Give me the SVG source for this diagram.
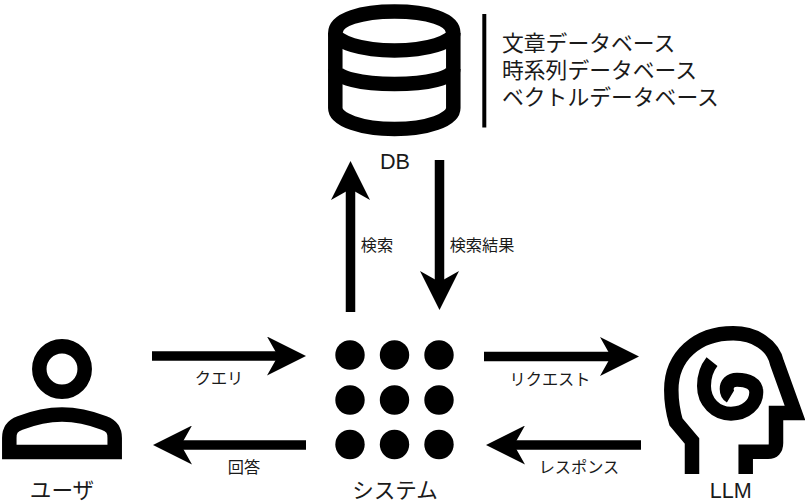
<svg xmlns="http://www.w3.org/2000/svg" width="805" height="504" viewBox="0 0 805 504">
  <style>
    text { font-family: "Liberation Sans", "Noto Sans CJK JP", sans-serif; fill: #1a1a1a; text-anchor: middle; }
    .big { font-size: 21.6px; }
    .small { font-size: 16.2px; }
    .list { font-size: 21.8px; text-anchor: start; }
    .icon { fill: none; stroke: #000; stroke-width: 14.5; }
    .conn { fill: none; stroke: #000; stroke-width: 9.5; marker-end: url(#head); }
  </style>
  <defs>
    <marker id="head" markerUnits="userSpaceOnUse" viewBox="0 0 39 39" refX="11" refY="19.5" markerWidth="39" markerHeight="39" orient="auto">
      <path d="M0 0 L39 19.5 L0 39 L11 19.5 Z" fill="#000"/>
    </marker>
  </defs>
  <rect width="805" height="504" fill="#fff"/>

  <g id="connectors">
    <line class="conn" x1="350.5" y1="312" x2="350.5" y2="189"/>
    <line class="conn" x1="439.5" y1="160" x2="439.5" y2="282"/>
    <line class="conn" x1="152" y1="356" x2="278" y2="356"/>
    <line class="conn" x1="306" y1="445" x2="181" y2="445"/>
    <line class="conn" x1="484" y1="356.5" x2="611" y2="356.5"/>
    <line class="conn" x1="641" y1="445" x2="514" y2="445"/>
    <text class="small" x="219" y="384">クエリ</text>
    <text class="small" x="244" y="473">回答</text>
    <text class="small" x="377" y="251">検索</text>
    <text class="small" x="482" y="251">検索結果</text>
    <text class="small" x="550" y="385">リクエスト</text>
    <text class="small" x="579" y="473">レスポンス</text>
  </g>

  <g id="db">
    <path class="icon" d="M335.3 33 C335.3 19 362 11.5 394.5 11.5 C427 11.5 453.3 19 453.3 33 C453.3 42 427 50.5 394.5 50.5 C362 50.5 335.3 42 335.3 33 Z"/>
    <path class="icon" d="M335.3 33 V108 C335.3 120 362 129 394.5 129 C427 129 453.3 120 453.3 108 V33"/>
    <path class="icon" d="M335.3 69 C335.3 78 362 84 394.5 84 C427 84 453.3 78 453.3 69"/>
    <text class="big" x="395" y="169">DB</text>
  </g>

  <g id="db-note">
    <line x1="484.3" y1="14" x2="484.3" y2="127.5" stroke="#000" stroke-width="4"/>
    <text class="list" x="502" y="51">文章データベース</text>
    <text class="list" x="502" y="78">時系列データベース</text>
    <text class="list" x="502" y="105">ベクトルデータベース</text>
  </g>

  <g id="user">
    <circle class="icon" cx="62" cy="369" r="22.7"/>
    <path class="icon" d="M9.3 452 V438 C9.3 430 12 426 20 423 C33 418 47 414.5 62 414.5 C77 414.5 91 418 104 423 C112 426 114.7 430 114.7 438 V452 Z"/>
    <text class="big" x="62" y="498">ユーザ</text>
  </g>

  <g id="system">
    <g fill="#000">
      <circle cx="350" cy="355" r="14.7"/><circle cx="394.5" cy="355" r="14.7"/><circle cx="439" cy="355" r="14.7"/>
      <circle cx="350" cy="400" r="14.7"/><circle cx="394.5" cy="400" r="14.7"/><circle cx="439" cy="400" r="14.7"/>
      <circle cx="350" cy="444.5" r="14.7"/><circle cx="394.5" cy="444.5" r="14.7"/><circle cx="439" cy="444.5" r="14.7"/>
    </g>
    <text class="big" x="395" y="498">システム</text>
  </g>

  <g id="llm">
    <path class="icon" d="M692 474 V441 L676 422 C673 412 671.3 402 671.3 390 C671.3 356 697 333.3 733.3 333.3 C755 333.3 773 345 777 363 L795 413 H776 V443 C776 449 773 451.7 768 451.7 H745.7 V474"/>
    <path class="icon" style="stroke-width:14" d="M712 361.7 C707 368 704 377 704 386 C704 402 716 413.7 731 413.7 C746 413.7 756.3 404 756.3 392 C756.3 384 748 379.7 737 379.7 C730 379.7 726.7 384 726.7 389 C726.7 392 728 395 730.5 396.5"/>
    <text class="big" x="730.7" y="498">LLM</text>
  </g>
</svg>
